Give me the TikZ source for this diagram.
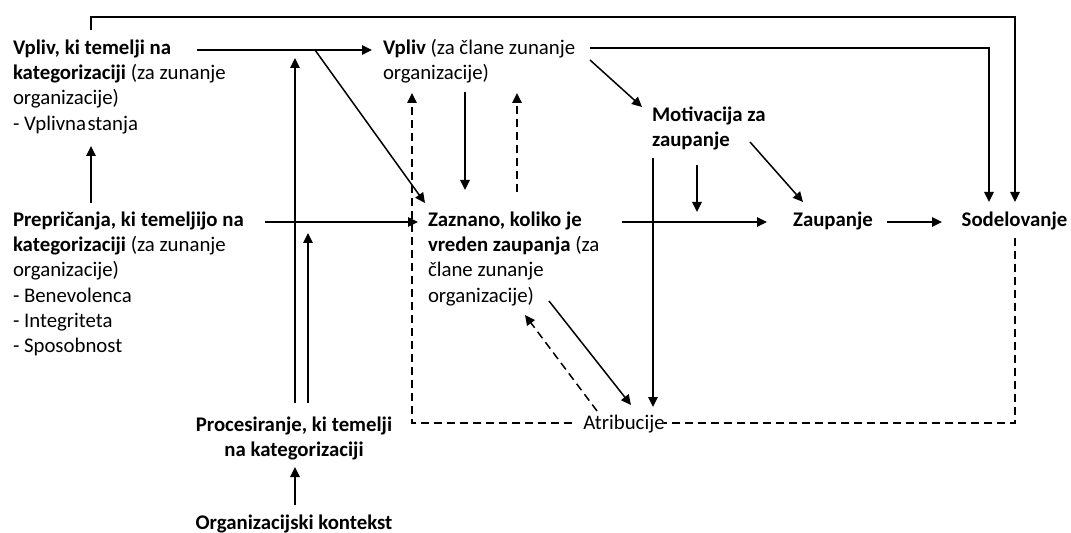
\documentclass[tikz,border=0pt]{standalone}
\usepackage{fontspec}
\setmainfont{Carlito}
\usetikzlibrary{arrows.meta}
\begin{document}
\begin{tikzpicture}[x=1bp,y=-1bp,
  lbl/.style={inner sep=0pt, outer sep=0pt, font=\fontsize{20.8bp}{25.3bp}\selectfont, align=left, anchor=north west, yshift=-1bp},
  clbl/.style={lbl, align=center, anchor=north},
  ln/.style={line width=1.5bp},
  arr/.style={ln, -{Triangle[length=10bp,width=9.5bp]}},
  dsh/.style={ln, dash pattern=on 8bp off 5bp},
  darr/.style={dsh, -{Triangle[length=10bp,width=9.5bp]}}]
\useasboundingbox (0,0) rectangle (1071,533);
% nodes
\node[lbl] (a) at (13,35.5) {\strut\textbf{Vpliv, ki temelji na}\\\textbf{kategorizaciji} (za zunanje\\organizacije)\\- Vplivna\kern1.5bp stanja};
\node[lbl] (b) at (383,35.5) {\strut\textbf{Vpliv} (za člane zunanje\\organizacije)};
\node[lbl] (c) at (652,102.5) {\strut\textbf{Motivacija za}\\\textbf{zaupanje}};
\node[lbl] (d) at (13,207.5) {\strut\textbf{Prepričanja, ki temeljijo na}\\\textbf{kategorizaciji} (za zunanje\\organizacije)\\- Benevolenca\\- Integriteta\\- Sposobnost};
\node[lbl] (e) at (428,207.5) {\strut\textbf{Zaznano, koliko je}\\\textbf{vreden zaupanja} (za\\člane zunanje\\organizacije)};
\node[clbl] (f) at (833,207.5) {\strut\textbf{Zaupanje}};
\node[clbl] (g) at (1014.5,207.5) {\strut\textbf{Sodelovanje}};
\node[clbl] (h) at (624,410.5) {\strut Atribucije};
\node[clbl] (i) at (294,412.5) {\strut\textbf{Procesiranje, ki temelji}\\\textbf{na kategorizaciji}};
\node[clbl] (j) at (294,510.5) {\strut\textbf{Organizacijski kontekst}};
% coordinates
\coordinate (top) at (0,17);
\coordinate (aTop) at (91,30);
\coordinate (gIn1) at (1015,202);
\coordinate (bOut) at (590,48);
\coordinate (gIn2) at (989,202);
\coordinate (aOut) at (197,50);
\coordinate (bIn) at (372,50);
\coordinate (aBr) at (315,50);
\coordinate (eIn1) at (425,203);
\coordinate (iOut1) at (295,403);
\coordinate (abLine) at (295,58);
\coordinate (iOut2) at (308,403);
\coordinate (deLine) at (308,233);
\coordinate (dOut) at (265,222);
\coordinate (eIn2) at (418,222);
\coordinate (dTop) at (91,203);
\coordinate (aBot) at (91,146);
\coordinate (bBot) at (465,92);
\coordinate (eTop) at (465,190);
\coordinate (eTop2) at (517,192);
\coordinate (bBot2) at (517,93);
\coordinate (hW) at (572,423);
\coordinate (bBot3) at (412,93);
\coordinate (gBot) at (1015,238);
\coordinate (hE) at (664,423);
\coordinate (bOut2) at (590,60);
\coordinate (cIn) at (642,107);
\coordinate (cOut) at (750,142);
\coordinate (fIn) at (803,202);
\coordinate (cBot) at (653,158);
\coordinate (hTop) at (653,407);
\coordinate (cBot2) at (697,165);
\coordinate (efLine) at (697,212);
\coordinate (eOut) at (622,222);
\coordinate (fW) at (767,222);
\coordinate (fOut) at (887,222);
\coordinate (gW) at (942,222);
\coordinate (eOut2) at (549,301);
\coordinate (hIn) at (631,405);
\coordinate (hOut) at (597,411);
\coordinate (eIn3) at (525,315);
\coordinate (jTop) at (295,505);
\coordinate (iBot) at (295,467);
% connectors
\draw[arr] (aTop) -- (aTop |- top) -| (gIn1);
\draw[arr] (bOut) -| (gIn2);
\draw[arr] (aOut) -- (bIn);
\draw[arr] (aBr) -- (eIn1);
\draw[arr] (iOut1) -- (abLine);
\draw[arr] (iOut2) -- (deLine);
\draw[arr] (dOut) -- (eIn2);
\draw[arr] (dTop) -- (aBot);
\draw[arr] (bBot) -- (eTop);
\draw[darr] (eTop2) -- (bBot2);
\draw[darr] (hW) -| (bBot3);
\draw[dsh] (gBot) |- (hE);
\draw[arr] (bOut2) -- (cIn);
\draw[arr] (cOut) -- (fIn);
\draw[arr] (cBot) -- (hTop);
\draw[arr] (cBot2) -- (efLine);
\draw[arr] (eOut) -- (fW);
\draw[arr] (fOut) -- (gW);
\draw[arr] (eOut2) -- (hIn);
\draw[darr] (hOut) -- (eIn3);
\draw[arr] (jTop) -- (iBot);
\end{tikzpicture}
\end{document}
